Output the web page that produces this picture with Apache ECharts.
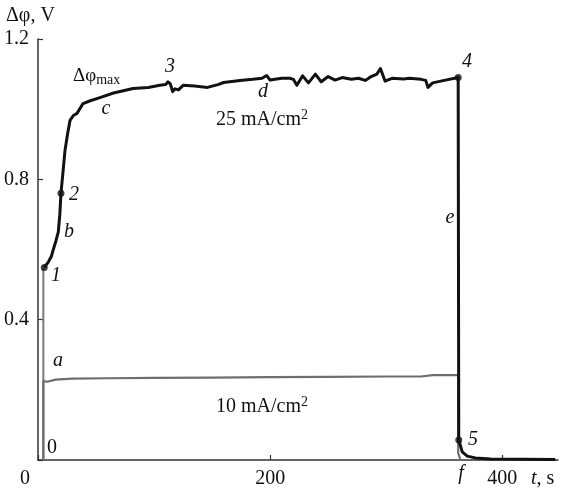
<!DOCTYPE html>
<html><head><meta charset="utf-8">
<script src="https://cdn.jsdelivr.net/npm/echarts@6/dist/echarts.min.js"></script>
<style>html,body{margin:0;padding:0;background:#fff}#c{width:566px;height:494px}</style>
</head><body><div id="c"></div>
<script>
// x ticks / y ticks
const xTicks = [0, 200, 400];
const yTicks = [0, 0.4, 0.8, 1.2];

// initial ohmic jump of the 25 mA/cm2 curve
const rampT = [4.6, 4.6];
const rampV = [0, 0.549];

// 10 mA/cm2 curve
const lowT = [4.6, 4.6, 8, 15, 30, 60, 100, 150, 200, 250, 300, 330, 340, 362, 362, 364];
const lowV = [0, 0.225, 0.223, 0.229, 0.232, 0.233, 0.234, 0.235, 0.236, 0.237, 0.238, 0.238, 0.242, 0.242, 0.02, 0.0];

// 25 mA/cm2 curve
const highT = [5.4, 9, 11.5, 13, 15.5, 17.5, 18.8, 19.8, 21.5, 23.3, 25.5, 27.6, 30.5, 33.6, 38.8, 45, 53.4, 65, 81.9, 95, 105, 110, 112, 114, 116, 118, 121, 125, 135, 146, 155, 160, 174, 185, 193, 197, 200, 210, 217, 220, 223, 228, 233, 239, 244, 250, 256, 262, 270, 276, 282, 287, 292, 295, 299, 305, 315, 320, 330, 334, 336, 340, 350, 362, 362.5, 365.5, 369.8, 376.7, 389.7, 445.7];
const highV = [0.549, 0.565, 0.58, 0.598, 0.625, 0.65, 0.70, 0.760, 0.82, 0.883, 0.93, 0.968, 0.982, 0.988, 1.016, 1.024, 1.033, 1.046, 1.059, 1.062, 1.068, 1.070, 1.078, 1.072, 1.050, 1.058, 1.055, 1.068, 1.066, 1.062, 1.070, 1.076, 1.082, 1.085, 1.088, 1.096, 1.083, 1.088, 1.088, 1.085, 1.068, 1.095, 1.075, 1.100, 1.078, 1.093, 1.083, 1.090, 1.085, 1.088, 1.082, 1.093, 1.100, 1.116, 1.080, 1.088, 1.086, 1.088, 1.085, 1.082, 1.062, 1.075, 1.082, 1.090, 0.057, 0.023, 0.011, 0.006, 0.003, 0.0015];

// marked points 1, 2, 4, 5
const markT = [5.4, 19.8, 362, 362.5];
const markV = [0.549, 0.760, 1.090, 0.057];

const zip = (a, b) => a.map((v, i) => [v, b[i]]);
const F = 'Liberation Serif';

const chart = echarts.init(document.getElementById('c'), null, {renderer: 'canvas'});
function txt(x, y, s, opts) {
  return Object.assign({type: 'text', x: x, y: y, z: 100,
    style: Object.assign({text: s, font: '20px "' + F + '"', fill: '#111', textAlign: 'center', textVerticalAlign: 'middle'}, opts || {})});
}
const itl = {font: 'italic 20px "' + F + '"'};
chart.setOption({
  animation: false,
  grid: {left: 38, right: 8, top: 39, bottom: 34, containLabel: false},
  xAxis: {
    type: 'value', min: 0, max: 448, interval: 200,
    axisLine: {lineStyle: {color: '#333', width: 1.5}},
    axisTick: {inside: true, length: 5, lineStyle: {color: '#333', width: 1.2}},
    splitLine: {show: false},
    axisLabel: {margin: 9, fontFamily: F, fontSize: 20, color: '#111', showMaxLabel: false,
      formatter: v => (xTicks.indexOf(v) > 0 ? String(v) : '')}
  },
  yAxis: {
    type: 'value', min: 0, max: 1.2, interval: 0.4,
    axisLine: {show: true, lineStyle: {color: '#333', width: 1.5}},
    axisTick: {show: true, inside: true, length: 5, lineStyle: {color: '#333', width: 1.2}},
    splitLine: {show: false},
    axisLabel: {margin: 9, fontFamily: F, fontSize: 20, color: '#111',
      formatter: v => (v > 0 && yTicks.some(t => Math.abs(t - v) < 1e-6) ? v.toFixed(1) : '')}
  },
  series: [
    {type: 'line', data: zip(rampT, rampV), symbol: 'none', lineStyle: {color: '#7a7a7a', width: 2}, z: 2},
    {type: 'line', data: zip(lowT, lowV), symbol: 'none', lineStyle: {color: '#6e6e6e', width: 2.2}, z: 3},
    {type: 'line', data: zip(highT, highV), symbol: 'none', lineStyle: {color: '#111', width: 3, join: 'round'}, z: 4},
    {type: 'scatter', data: zip(markT, markV), symbol: 'circle', symbolSize: 7, itemStyle: {color: '#111'}, z: 5}
  ],
  graphic: [
    txt(6, 16, 'Δφ, V', {textAlign: 'left'}),
    txt(25, 479, '0'),
    {type: 'text', x: 531, y: 479, z: 100, style: {text: '{i|t}, s', textVerticalAlign: 'middle', textAlign: 'left',
      rich: {i: {font: 'italic 20px "' + F + '"', fill: '#111'}}, font: '20px "' + F + '"', fill: '#111'}},
    {type: 'text', x: 73, y: 76, z: 100, style: {text: 'Δφ{s|max}', textVerticalAlign: 'middle', textAlign: 'left',
      font: '19px "' + F + '"', fill: '#111', rich: {s: {font: '14px "' + F + '"', fill: '#111', padding: [8, 0, 0, 0]}}}},
    {type: 'text', x: 216, y: 120, z: 100, style: {text: '25 mA/cm{p|2}', textVerticalAlign: 'middle', textAlign: 'left',
      font: '20px "' + F + '"', fill: '#111', rich: {p: {font: '14px "' + F + '"', fill: '#111', padding: [0, 0, 9, 0]}}}},
    {type: 'text', x: 216, y: 407, z: 100, style: {text: '10 mA/cm{p|2}', textVerticalAlign: 'middle', textAlign: 'left',
      font: '20px "' + F + '"', fill: '#111', rich: {p: {font: '14px "' + F + '"', fill: '#111', padding: [0, 0, 9, 0]}}}},
    txt(56, 276, '1', itl),
    txt(74, 195, '2', itl),
    txt(170, 67, '3', itl),
    txt(467, 62, '4', itl),
    txt(473, 440, '5', itl),
    txt(58, 361, 'a', itl),
    txt(69, 232, 'b', itl),
    txt(106, 109, 'c', itl),
    txt(263, 92, 'd', itl),
    txt(450, 218, 'e', itl),
    txt(461, 474, 'f', itl),
    txt(52, 448, '0')
  ]
});
</script></body></html>
